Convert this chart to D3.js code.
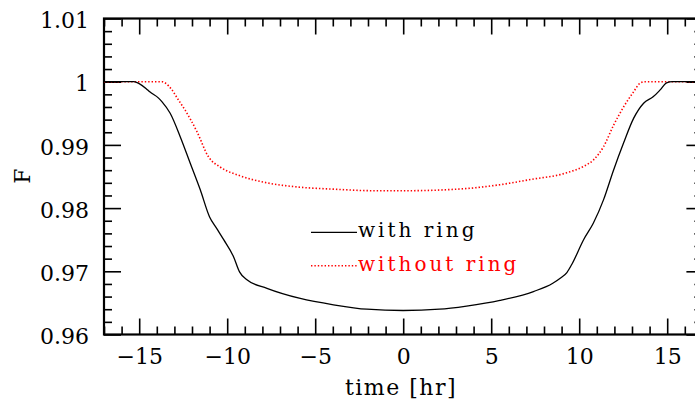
<!DOCTYPE html>
<html>
<head>
<meta charset="utf-8">
<script src="https://cdn.jsdelivr.net/npm/d3@7"></script>
<style>
  body { margin: 0; background: #fff; }
  svg { display: block; }
  text { font-family: "DejaVu Serif", serif; }
</style>
</head>
<body>
<div id="chart"></div>
<script>
// data
let timeRing = [-17, -15.3, -15.0, -14.6, -14.4, -13.9, -13.7, -13.24, -12.67, -12.1, -11.53, -11.0, -10.6, -10.2, -9.64, -9.3, -8.9, -7.74, -5.85, -3.96, -2.06, 0, 2.06, 3.6, 5.5, 7.4, 8.5, 8.92, 9.3, 9.6, 10.25, 10.8, 11.38, 11.95, 12.52, 13.09, 13.66, 14.2, 14.6, 14.96, 15.3, 17];
let fluxRing = [1, 1, 0.9997, 0.9989, 0.9984, 0.9974, 0.9968, 0.9950, 0.9913, 0.9871, 0.9829, 0.9786, 0.9768, 0.9750, 0.9723, 0.9699, 0.9687, 0.9673, 0.9657, 0.9647, 0.9640, 0.9638, 0.9640, 0.9645, 0.9654, 0.9668, 0.9681, 0.9689, 0.9698, 0.9712, 0.9750, 0.9776, 0.9813, 0.9860, 0.9903, 0.9942, 0.9966, 0.9976, 0.9987, 0.9998, 1, 1];

let timeNoRing = [-17, -13.7, -13.52, -13.14, -12.77, -12.39, -11.72, -11.06, -10.4, -9.26, -7.74, -5.85, -3.96, -1.69, 0.2, 3.6, 5.5, 7.4, 8.92, 9.3, 10.25, 10.8, 11.38, 11.95, 12.52, 13.09, 13.47, 13.7, 17];
let fluxNoRing = [1, 1, 0.9998, 0.9987, 0.9971, 0.9955, 0.9921, 0.9881, 0.9865, 0.9851, 0.9840, 0.9833, 0.9830, 0.98275, 0.98275, 0.9831, 0.9837, 0.9846, 0.9853, 0.9856, 0.9866, 0.9876, 0.9897, 0.9931, 0.9960, 0.9984, 0.9998, 1, 1];

let xTicks = [-15, -10, -5, 0, 5, 10, 15];
let xTickLabels = ["\u221215", "\u221210", "\u22125", "0", "5", "10", "15"];
let yTicks = [0.96, 0.97, 0.98, 0.99, 1, 1.01];
let yTickLabels = ["0.96", "0.97", "0.98", "0.99", "1", "1.01"];
let legendLabels = ["with ring", "without ring"];

let svgWidth = 695;
let svgHeight = 412;

let margin = { top: 18.5, left: 104, bottom: 412 - 334.5 };
let width = 598.4;
let height = svgHeight - margin.top - margin.bottom;

let svg = d3.select("#chart")
  .append("svg")
  .attr("width", svgWidth)
  .attr("height", svgHeight);

let chartGroup = svg.append("g")
  .attr("transform", `translate(${margin.left}, ${margin.top})`);

let xScale = d3.scaleLinear()
  .domain([-17, 17])
  .range([0, width]);

let yScale = d3.scaleLinear()
  .domain([0.96, 1.01])
  .range([height, 0]);

let xMinor = d3.range(-17, 18, 1).filter(d => xTicks.indexOf(d) < 0);
let yMinor = d3.range(0, 26).map(i => +(0.96 + i * 0.002).toFixed(3)).filter(d => !yTicks.some(t => Math.abs(t - d) < 1e-6));

// axes: ticks point inward on all four sides
function styleAxis(g) {
  g.select(".domain").remove();
  g.selectAll(".tick line").attr("stroke", "#000").attr("stroke-width", 1.6);
  g.selectAll(".tick text")
    .attr("fill", "#000")
    .style("font-size", "22px");
}

chartGroup.append("g")
  .attr("transform", `translate(0, ${height})`)
  .call(d3.axisBottom(xScale).tickValues(xTicks)
    .tickFormat((d, i) => xTickLabels[i])
    .tickSizeInner(-16).tickSizeOuter(0).tickPadding(14))
  .call(styleAxis)
  .selectAll(".tick text")
  .attr("dy", "0.71em");

chartGroup.append("g")
  .attr("transform", `translate(0, ${height})`)
  .call(d3.axisBottom(xScale).tickValues(xMinor).tickFormat("").tickSizeInner(-8).tickSizeOuter(0))
  .call(styleAxis);

chartGroup.append("g")
  .call(d3.axisTop(xScale).tickValues(xTicks).tickFormat("").tickSizeInner(-16).tickSizeOuter(0))
  .call(styleAxis);

chartGroup.append("g")
  .call(d3.axisTop(xScale).tickValues(xMinor).tickFormat("").tickSizeInner(-8).tickSizeOuter(0))
  .call(styleAxis);

chartGroup.append("g")
  .call(d3.axisLeft(yScale).tickValues(yTicks)
    .tickFormat((d, i) => yTickLabels[i])
    .tickSizeInner(-17).tickSizeOuter(0).tickPadding(15))
  .call(styleAxis)
  .selectAll(".tick text")
  .attr("dy", "0.42em");

chartGroup.append("g")
  .call(d3.axisLeft(yScale).tickValues(yMinor).tickFormat("").tickSizeInner(-8).tickSizeOuter(0))
  .call(styleAxis);

chartGroup.append("g")
  .attr("transform", `translate(${width}, 0)`)
  .call(d3.axisRight(yScale).tickValues(yTicks).tickFormat("").tickSizeInner(-16).tickSizeOuter(0))
  .call(styleAxis);

chartGroup.append("g")
  .attr("transform", `translate(${width}, 0)`)
  .call(d3.axisRight(yScale).tickValues(yMinor).tickFormat("").tickSizeInner(-8).tickSizeOuter(0))
  .call(styleAxis);

// frame
chartGroup.append("rect")
  .attr("width", width)
  .attr("height", height)
  .attr("fill", "none")
  .attr("stroke", "#000")
  .attr("stroke-width", 2.2);

// curves
let line = d3.line()
  .x(d => xScale(d[0]))
  .y(d => yScale(d[1]))
  .curve(d3.curveMonotoneX);

chartGroup.append("path")
  .datum(d3.zip(timeNoRing, fluxNoRing))
  .attr("fill", "none")
  .attr("stroke", "#ff0000")
  .attr("stroke-width", 1.6)
  .attr("stroke-dasharray", "1.4,2")
  .attr("d", line);

chartGroup.append("path")
  .datum(d3.zip(timeRing, fluxRing))
  .attr("fill", "none")
  .attr("stroke", "#000")
  .attr("stroke-width", 1.3)
  .attr("d", line);

// legend
let legendX = 311 - margin.left;
let legendItems = [
  { label: legendLabels[0], color: "#000", dash: null, y: 232.3 - margin.top },
  { label: legendLabels[1], color: "#ff0000", dash: "1.4,2", y: 265.7 - margin.top }
];

legendItems.forEach(function(item) {
  chartGroup.append("line")
    .attr("x1", legendX)
    .attr("x2", legendX + 46)
    .attr("y1", item.y)
    .attr("y2", item.y)
    .attr("stroke", item.color)
    .attr("stroke-width", item.dash ? 1.6 : 1.3)
    .attr("stroke-dasharray", item.dash);

  chartGroup.append("text")
    .attr("x", legendX + 47)
    .attr("y", item.y + 5)
    .attr("fill", item.color)
    .style("font-size", "20px")
    .style("letter-spacing", "3px")
    .text(item.label);
});

// axis titles
svg.append("text")
  .attr("x", 401)
  .attr("y", 395)
  .attr("text-anchor", "middle")
  .style("font-size", "22px")
  .style("letter-spacing", "1.5px")
  .text("time [hr]");

svg.append("text")
  .attr("transform", "translate(30, 176) rotate(-90)")
  .attr("text-anchor", "middle")
  .style("font-size", "22px")
  .text("F");
</script>
</body>
</html>
